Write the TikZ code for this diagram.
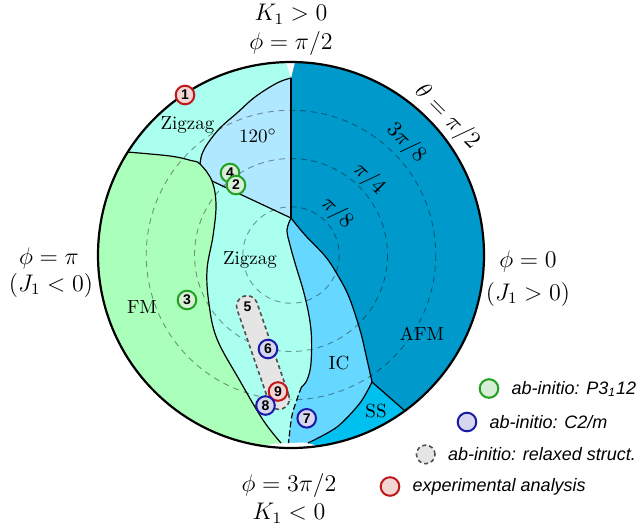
\documentclass[tikz,border=0pt]{standalone}
\usepackage{fontspec}
\setsansfont{Liberation Sans}
\usepackage{amsmath}
\usetikzlibrary{positioning}
\definecolor{afm}{HTML}{0099CC}
\definecolor{ssc}{HTML}{00C0F0}
\definecolor{icc}{HTML}{66D8FF}
\definecolor{tri}{HTML}{B0E8FF}
\definecolor{zz}{HTML}{AAFFEE}
\definecolor{fmc}{HTML}{AAFFBB}
\definecolor{mgreen}{HTML}{22A022}
\definecolor{mblue}{HTML}{1A1AA8}
\definecolor{mred}{HTML}{C01818}
\definecolor{mgray}{HTML}{505050}
\tikzset{
  bound/.style={line width=0.6pt, draw=black},
  guide/.style={draw=black, opacity=0.4, line width=0.45pt, dash pattern=on 3pt off 2.4pt},
  num/.style={font={\sffamily\bfseries\fontsize{7}{8}\selectfont}, inner sep=0pt},
  mk/.style={num, circle, draw=#1, fill=#1!18, line width=1pt, minimum size=9.3pt},
  relaxmk/.style={circle, draw=mgray, fill=black!10, line width=0.8pt, dash pattern=on 2pt off 1.5pt, minimum size=9.3pt, inner sep=0pt},
  relaxbox/.style={draw=mgray, fill=black!10, line width=0.8pt, dash pattern=on 2pt off 1.5pt, rounded corners=5.2pt, inner sep=0pt},
  region/.style={font=\fontsize{9.5}{11}\selectfont},
  outer/.style={font=\large, align=center},
  ring/.style={font=\fontsize{10.5}{12}\selectfont, rotate=-45, inner sep=0.5pt},
  legtext/.style={font={\sffamily\itshape\fontsize{9}{11}\selectfont}, inner sep=0pt, anchor=west},
}

\begin{document}
\begin{tikzpicture}[x=0.5pt, y=-0.5pt]
  \useasboundingbox (0,0) rectangle (636,527);
  \coordinate (C) at (291,255);
  \coordinate (Ntop) at (291,78);
  \coordinate (Nmid) at (291,218);
  \coordinate (Nfm) at (127,152);
  \coordinate (Nq) at (200,164);
  \coordinate (Nr) at (212,181);
  \coordinate (Nfb) at (281,443);
  \coordinate (Nd) at (301.5,387);
  \coordinate (Nzb) at (288.5,443);
  \coordinate (Nic) at (372,382);
  \coordinate (Nsb) at (308,443);
  \coordinate (Nss) at (413,418);

  \begin{scope}
    \clip (C) circle (193);
    \fill[zz] (C) circle (200);
    % 120 degree phase
    \fill[tri] (Ntop) -- (Nmid) -- (Nr) -- (190,180) -- plot[smooth, tension=0.6] coordinates {(Nq) (202,154) (208,143) (220,128) (237,113) (255,97) (277,83) (Ntop)} -- cycle;
    % FM
    \fill[fmc] plot[smooth, tension=0.6] coordinates {(Nfm) (170,156) (191,160.5) (Nq) (Nr) (216,205) (213,236) (207,270) (209,304) (217,339) (240,381) (263,420) (Nfb)} -- (270,480) -- (60,480) -- (60,140) -- cycle;
    % IC
    \fill[icc] plot[smooth, tension=0.6] coordinates {(Nmid) (287,230) (290,245) (295,263) (305,297) (311,330) (311,363) (307,380) (Nd)} -- plot[smooth] coordinates {(Nd) (296.7,400) (291.7,416.7) (Nzb)} -- (288,470) -- (420,470) -- (420,210) -- cycle;
    % SS
    \fill[ssc] plot[smooth] coordinates {(Nic) (360,403) (337,427) (Nsb)} -- (305,470) -- (430,470) -- (Nss) -- cycle;
    % AFM
    \fill[afm] (296,40) -- (Ntop) -- (Nmid) -- plot[smooth, tension=0.6] coordinates {(Nmid) (305,235) (325,256) (337,274) (349,297) (360,330) (366,355) (Nic)} -- (Nss) -- (520,440) -- (520,40) -- cycle;
    % notches
    \fill[white] (284,50) -- (286,62) -- (Ntop) -- (295,62) -- (298,50) -- cycle;
    \fill[white] (258,447) -- (275,443.5) -- (305,442.5) -- (315,445) -- (315,470) -- (258,470) -- cycle;
    % theta circles
    \foreach \r in {48.25,96.5,144.75}
      \draw[guide] (C) circle (\r);
    % phase boundaries
    \draw[bound] plot[smooth, tension=0.6] coordinates {(Nfm) (170,156) (191,160.5) (Nq) (Nr) (216,205) (213,236) (207,270) (209,304) (217,339) (240,381) (263,420) (Nfb)};
    \draw[bound] plot[smooth, tension=0.6] coordinates {(Nq) (202,154) (208,143) (220,128) (237,113) (255,97) (277,83) (Ntop)};
    \draw[bound] (Ntop) -- (Nmid);
    \draw[bound] (Nr) -- (Nmid);
    \draw[bound] plot[smooth, tension=0.6] coordinates {(Nmid) (287,230) (290,245) (295,263) (305,297) (311,330) (311,363) (307,380) (Nd)};
    \draw[bound, dash pattern=on 3pt off 1.5pt] plot[smooth] coordinates {(Nd) (296.7,400) (291.7,416.7) (Nzb)};
    \draw[bound] plot[smooth, tension=0.6] coordinates {(Nmid) (305,235) (325,256) (337,274) (349,297) (360,330) (366,355) (Nic)};
    \draw[bound] plot[smooth] coordinates {(Nic) (360,403) (337,427) (Nsb)};
    \draw[bound] (Nic) -- (Nss);
  \end{scope}
  \draw[line width=1.1pt] (C) circle (193);

  % phase names
  \node[region] (lzz1) at (187.5,125) {Zigzag};
  \node[region] (l120) at (258,136) {120$^\circ$};
  \node[region] (lzz2) at (250,260) {Zigzag};
  \node[region] (lfm) at (142,307) {FM};
  \node[region] (lic) at (339,363) {IC};
  \node[region] (lss) at (376,411) {SS};
  \node[region] (lafm) at (422,334) {AFM};

  % axis labels
  \node[outer] (kpos) at (291,14) {$K_1>0$};
  \node[outer] (phi2) at (291,43) {$\phi=\pi/2$};
  \node[outer] (phi3) at (289,485) {$\phi=3\pi/2$};
  \node[outer] (kneg) at (289,513) {$K_1<0$};
  \node[outer] (phipi) at (49,258) {$\phi=\pi$};
  \node[outer] (jneg) at (51,285) {$(J_1<0)$};
  \node[outer] (phi0) at (528,261) {$\phi=0$};
  \node[outer] (jpos) at (528,294) {$(J_1>0)$};
  \node[ring, font=\large] (th) at (447,117) {$\theta=\pi/2$};
  \node[ring] (t3) at (406,143) {$3\pi/8$};
  \node[ring] (t2) at (369,179) {$\pi/4$};
  \node[ring] (t1) at (337,213) {$\pi/8$};

  % data points
  \node[mk=mred] (m1) at (185,95) {1};
  \node[mk=mgreen] (m4) at (230,173) {4};
  \node[mk=mgreen] (m2) at (236,185) {2};
  \node[mk=mgreen] (m3) at (187,300) {3};
  \node[relaxbox, minimum width=59.5pt, minimum height=10.5pt, rotate=-71] (relax) at (263,352.5) {};
  \node[num] (m5) at (247.5,306.5) {5};
  \node[mk=mblue] (m6) at (268,349) {6};
  \node[mk=mred] (m9) at (278,391.5) {9};
  \node[mk=mblue] (m8) at (265.5,405.5) {8};
  \node[mk=mblue] (m7) at (306.7,418.3) {7};

  % legend
  \node[mk=mgreen] (lg1) at (489,388.5) {};
  \node[legtext, right=6pt of lg1] (lt1) {ab-initio: P3\textsubscript{1}12};
  \node[mk=mblue] (lg2) at (467,422) {};
  \node[legtext, right=6pt of lg2] (lt2) {ab-initio: C2/m};
  \node[relaxmk] (lg3) at (425.7,454.4) {};
  \node[legtext, right=6pt of lg3] (lt3) {ab-initio: relaxed struct.};
  \node[mk=mred] (lg4) at (390,486.5) {};
  \node[legtext, right=6pt of lg4] (lt4) {experimental analysis};
\end{tikzpicture}
\end{document}
